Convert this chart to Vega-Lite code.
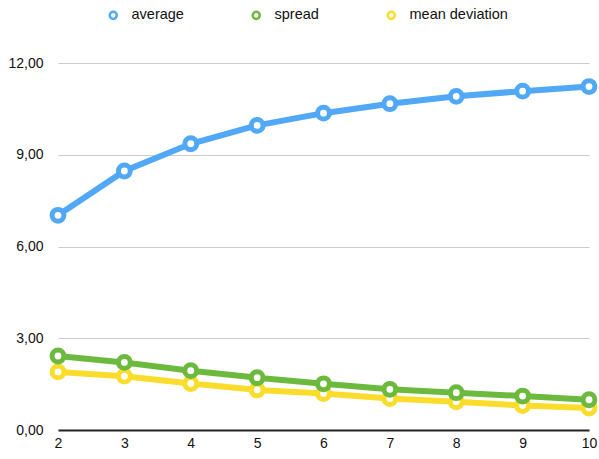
{
  "$schema": "https://vega.github.io/schema/vega-lite/v6.json",
  "width": 531,
  "height": 367,
  "autosize": {"type": "none"},
  "padding": {"left": 58, "top": 63, "right": 10, "bottom": 29},
  "background": "white",
  "config": {
    "font": "Liberation Sans",
    "view": {"stroke": null}
  },
  "data": {
    "values": [
      {"n": 2, "series": "average", "value": 7.02},
      {"n": 3, "series": "average", "value": 8.47},
      {"n": 4, "series": "average", "value": 9.36},
      {"n": 5, "series": "average", "value": 9.96},
      {"n": 6, "series": "average", "value": 10.36},
      {"n": 7, "series": "average", "value": 10.67},
      {"n": 8, "series": "average", "value": 10.91},
      {"n": 9, "series": "average", "value": 11.08},
      {"n": 10, "series": "average", "value": 11.23},
      {"n": 2, "series": "spread", "value": 2.42},
      {"n": 3, "series": "spread", "value": 2.21},
      {"n": 4, "series": "spread", "value": 1.94},
      {"n": 5, "series": "spread", "value": 1.71},
      {"n": 6, "series": "spread", "value": 1.51},
      {"n": 7, "series": "spread", "value": 1.33},
      {"n": 8, "series": "spread", "value": 1.22},
      {"n": 9, "series": "spread", "value": 1.11},
      {"n": 10, "series": "spread", "value": 0.99},
      {"n": 2, "series": "mean deviation", "value": 1.9},
      {"n": 3, "series": "mean deviation", "value": 1.76},
      {"n": 4, "series": "mean deviation", "value": 1.52},
      {"n": 5, "series": "mean deviation", "value": 1.31},
      {"n": 6, "series": "mean deviation", "value": 1.19},
      {"n": 7, "series": "mean deviation", "value": 1.03},
      {"n": 8, "series": "mean deviation", "value": 0.92},
      {"n": 9, "series": "mean deviation", "value": 0.8},
      {"n": 10, "series": "mean deviation", "value": 0.72}
    ]
  },
  "encoding": {
    "x": {
      "field": "n",
      "type": "quantitative",
      "scale": {"domain": [2, 10], "nice": false, "zero": false},
      "axis": {
        "title": null,
        "values": [2, 3, 4, 5, 6, 7, 8, 9, 10],
        "grid": false,
        "ticks": false,
        "domain": true,
        "domainColor": "#222222",
        "domainWidth": 2,
        "labelFlush": false,
        "labelPadding": 6,
        "labelFontSize": 14,
        "labelColor": "#111111"
      }
    },
    "y": {
      "field": "value",
      "type": "quantitative",
      "scale": {"domain": [0, 12], "nice": false},
      "axis": {
        "title": null,
        "values": [0, 3, 6, 9, 12],
        "grid": true,
        "gridColor": "#cccccc",
        "gridWidth": 1,
        "domain": false,
        "ticks": false,
        "labelPadding": 15,
        "labelFontSize": 14,
        "labelColor": "#111111",
        "labelExpr": "replace(format(datum.value, '.2f'), '.', ',')"
      }
    },
    "color": {
      "field": "series",
      "type": "nominal",
      "scale": {
        "domain": ["average", "spread", "mean deviation"],
        "range": ["#50a8f6", "#6cba3d", "#fadd2c"]
      },
      "legend": {
        "title": null,
        "orient": "none",
        "direction": "horizontal",
        "legendX": 48,
        "legendY": -55,
        "columnPadding": 63,
        "symbolType": "circle",
        "symbolSize": 50,
        "symbolStrokeWidth": 2.5,
        "symbolFillColor": "white",
        "labelOffset": 11,
        "labelFontSize": 14.5,
        "labelColor": "#111111"
      }
    }
  },
  "layer": [
    {
      "transform": [{"filter": "datum.series === 'mean deviation'"}],
      "layer": [
        {"mark": {"type": "line", "strokeWidth": 6}},
        {"mark": {"type": "point", "filled": false, "fill": "white", "fillOpacity": 1, "opacity": 1, "strokeWidth": 5, "size": 140}}
      ]
    },
    {
      "transform": [{"filter": "datum.series === 'spread'"}],
      "layer": [
        {"mark": {"type": "line", "strokeWidth": 6}},
        {"mark": {"type": "point", "filled": false, "fill": "white", "fillOpacity": 1, "opacity": 1, "strokeWidth": 5, "size": 140}}
      ]
    },
    {
      "transform": [{"filter": "datum.series === 'average'"}],
      "layer": [
        {"mark": {"type": "line", "strokeWidth": 6}},
        {"mark": {"type": "point", "filled": false, "fill": "white", "fillOpacity": 1, "opacity": 1, "strokeWidth": 5, "size": 140}}
      ]
    }
  ]
}
